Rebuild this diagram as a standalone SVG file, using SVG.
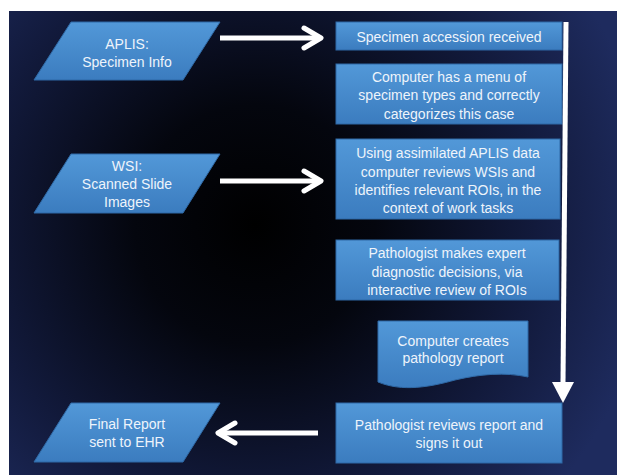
<svg xmlns="http://www.w3.org/2000/svg" width="617" height="475" viewBox="0 0 617 475">
<defs>
<radialGradient id="bg" gradientUnits="userSpaceOnUse" cx="255" cy="225" r="400">
<stop offset="0" stop-color="#000000"/>
<stop offset="0.3" stop-color="#04060e"/>
<stop offset="0.7" stop-color="#121a3c"/>
<stop offset="1" stop-color="#1e2b5e"/>
</radialGradient>
<linearGradient id="fill" x1="0" y1="0" x2="0" y2="1">
<stop offset="0" stop-color="#5298d8"/>
<stop offset="1" stop-color="#3b7cbf"/>
</linearGradient>
<style>
.shape{fill:url(#fill);stroke:#2f69a6;stroke-width:1}
.t{font-family:"Liberation Sans",Arial,sans-serif;font-size:14px;fill:#eef4fb;text-anchor:middle}
.line{stroke:#ffffff;fill:none;stroke-width:5}
.head{stroke:#ffffff;fill:none;stroke-width:5;stroke-linejoin:round;stroke-linecap:round}
</style>
</defs>
<rect x="0" y="0" width="617" height="475" fill="#ffffff"/>
<rect x="9" y="11" width="608" height="464" fill="url(#bg)"/>

<g id="aplis">
<polygon class="shape" points="71,22 220,22 183,80 34,80"/>
<text class="t" x="127" y="49">APLIS:</text>
<text class="t" x="127" y="67">Specimen Info</text>
</g>
<g id="wsi">
<polygon class="shape" points="71,154 220,154 183,213 34,213"/>
<text class="t" x="127" y="171">WSI:</text>
<text class="t" x="127" y="189">Scanned Slide</text>
<text class="t" x="127" y="207">Images</text>
</g>
<g id="final">
<polygon class="shape" points="71,403 220,403 183,462 34,462"/>
<text class="t" x="127" y="429">Final Report</text>
<text class="t" x="127" y="447">sent to EHR</text>
</g>
<g id="accession">
<rect class="shape" x="336" y="22" width="226" height="28"/>
<text class="t" x="449" y="42">Specimen accession received</text>
</g>
<g id="menu">
<rect class="shape" x="336" y="64" width="226" height="60"/>
<text class="t" x="449" y="82">Computer has a menu of</text>
<text class="t" x="449" y="100">specimen types and correctly</text>
<text class="t" x="449" y="119">categorizes this case</text>
</g>
<g id="review">
<rect class="shape" x="336" y="139" width="224" height="80"/>
<text class="t" x="448" y="158">Using assimilated APLIS data</text>
<text class="t" x="448" y="177">computer reviews WSIs and</text>
<text class="t" x="448" y="195">identifies relevant ROIs, in the</text>
<text class="t" x="448" y="213">context of work tasks</text>
</g>
<g id="expert">
<rect class="shape" x="336" y="240" width="223" height="60"/>
<text class="t" x="447" y="258">Pathologist makes expert</text>
<text class="t" x="447" y="277">diagnostic decisions, via</text>
<text class="t" x="447" y="295">interactive review of ROIs</text>
</g>
<g id="report">
<path class="shape" d="M378,321 H528 V377 C505,372 480,374 455,380 C430,387 402,392 378,382 Z"/>
<text class="t" x="453" y="346">Computer creates</text>
<text class="t" x="453" y="363">pathology report</text>
</g>
<g id="signout">
<rect class="shape" x="336" y="403" width="226" height="60"/>
<text class="t" x="449" y="430">Pathologist reviews report and</text>
<text class="t" x="449" y="448">signs it out</text>
</g>

<g id="connectors">
<line class="line" x1="220" y1="38" x2="319" y2="38"/>
<polyline class="head" points="304,28 321,38 304,48"/>
<line class="line" x1="220" y1="181" x2="319" y2="181"/>
<polyline class="head" points="304,171 321,181 304,191"/>
<line class="line" x1="318" y1="433" x2="219" y2="433"/>
<polyline class="head" points="235,423 218,433 235,443"/>
<line class="line" x1="566" y1="22" x2="563" y2="383"/>
<polygon points="552,382 574,382 563,403" fill="#ffffff"/>
</g>
</svg>
